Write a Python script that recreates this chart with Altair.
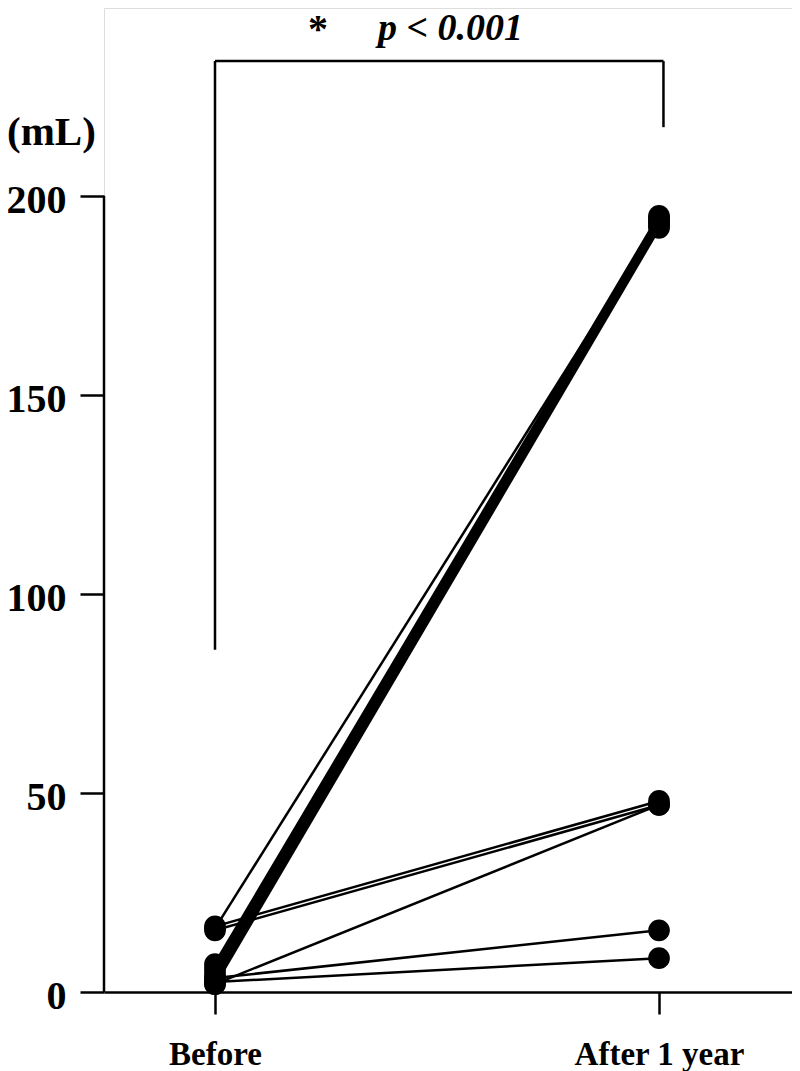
import altair as alt
import pandas as pd

# ---- data (mL) ----
subjects = list(range(1, 13))
group = ["thin", "bundle", "bundle", "bundle", "bundle", "bundle", "bundle",
         "other", "other", "other", "other", "other"]
before = [16.0, 7.0, 6.0, 5.0, 4.0, 3.0, 2.0, 16.5, 15.5, 2.0, 3.5, 2.5]
after = [193.5, 195.0, 194.5, 194.0, 193.0, 192.5, 192.0, 48.0, 47.0, 47.0, 15.5, 8.5]
time_labels = ["Before", "After 1 year"]

y_ticks = [0, 50, 100, 150, 200]

# annotation (bracket / text) positions in data units
bracket_x = [0.0, 1.01]
bracket_top = 233.9
bracket_left_bottom = 86.0
bracket_right_bottom = 217.3
unit_label = "(mL)"
star_text = "*"
p_text = "p < 0.001"

rows = []
for s, g, b, a in zip(subjects, group, before, after):
    rows.append({"subject": s, "group": g, "t": 0, "value": b})
    rows.append({"subject": s, "group": g, "t": 1, "value": a})
df = pd.DataFrame(rows)

FONT = "Liberation Serif"
X_DOMAIN = [-0.25, 1.2995]
Y_DOMAIN = [0, 247.24]

xscale = alt.Scale(domain=X_DOMAIN, nice=False, zero=False)
yscale = alt.Scale(domain=Y_DOMAIN, nice=False, zero=False)

x_enc = alt.X(
    "t:Q", scale=xscale,
    axis=alt.Axis(
        values=[0, 1], title=None, grid=False,
        labelExpr="datum.value == 0 ? '%s' : '%s'" % (time_labels[0], time_labels[1]),
        tickSize=22, tickWidth=2.5, tickColor="black",
        domainWidth=2.5, domainColor="black",
        labelFont=FONT, labelFontSize=33, labelFontWeight="bold", labelColor="black",
        labelPadding=24, labelFlush=False, labelOverlap=False,
    ),
)
y_enc = alt.Y(
    "value:Q", scale=yscale,
    axis=alt.Axis(
        values=y_ticks, title=None, grid=False, domain=False,
        tickSize=24, tickWidth=2.5, tickColor="black",
        labelFont=FONT, labelFontSize=40, labelFontWeight="bold", labelColor="black",
        labelPadding=14, labelOffset=4, labelOverlap=False, labelFlush=False,
    ),
)

base = alt.Chart(df)

lines_bundle = base.transform_filter(alt.datum.group == "bundle").mark_line(
    color="black", strokeWidth=3.5
).encode(x=x_enc, y=y_enc, detail="subject:N")

lines_other = base.transform_filter(alt.datum.group != "bundle").mark_line(
    color="black", strokeWidth=2.5
).encode(x="t:Q", y="value:Q", detail="subject:N")

points = base.mark_circle(color="black", opacity=1, size=470).encode(
    x="t:Q", y="value:Q"
)

# y axis line 0..200
yaxis_df = pd.DataFrame({"x": [X_DOMAIN[0]], "y": [0], "y2": [max(y_ticks)]})
yaxis_line = alt.Chart(yaxis_df).mark_rule(color="black", strokeWidth=2.5).encode(
    x="x:Q", y="y:Q", y2="y2:Q"
)

# significance bracket
br_df = pd.DataFrame({
    "x": [bracket_x[0], bracket_x[0], bracket_x[1]],
    "x2": [bracket_x[1], bracket_x[0], bracket_x[1]],
    "y": [bracket_top, bracket_left_bottom, bracket_right_bottom],
    "y2": [bracket_top, bracket_top, bracket_top],
})
bracket = alt.Chart(br_df).mark_rule(color="black", strokeWidth=2.5).encode(
    x="x:Q", x2="x2:Q", y="y:Q", y2="y2:Q"
)

unit_df = pd.DataFrame({"x": [-0.4685], "y": [215.8], "label": [unit_label]})
unit_txt = alt.Chart(unit_df).mark_text(
    align="left", baseline="middle", font=FONT, fontSize=41, fontWeight="bold", color="black"
).encode(x="x:Q", y="y:Q", text="label:N")

star_df = pd.DataFrame({"x": [0.232], "y": [241.6], "label": [star_text]})
star_txt = alt.Chart(star_df).mark_text(
    align="center", baseline="middle", font=FONT, fontSize=40, fontWeight="bold", color="black"
).encode(x="x:Q", y="y:Q", text="label:N")

p_df = pd.DataFrame({"x": [0.367], "y": [242.0], "label": [p_text]})
p_txt = alt.Chart(p_df).mark_text(
    align="left", baseline="middle", font=FONT, fontSize=38, fontWeight="bold",
    fontStyle="italic", color="black"
).encode(x="x:Q", y="y:Q", text="label:N")

chart = alt.layer(
    lines_bundle, lines_other, points, yaxis_line, bracket, unit_txt, star_txt, p_txt
).properties(
    width=688, height=984,
    padding={"left": 96, "top": 0, "right": 0, "bottom": 79},
    autosize=alt.AutoSizeParams(type="none"),
).configure_view(stroke=None).configure(background="white")

chart.save("out.html", embed_options={"renderer": "svg", "actions": False})
